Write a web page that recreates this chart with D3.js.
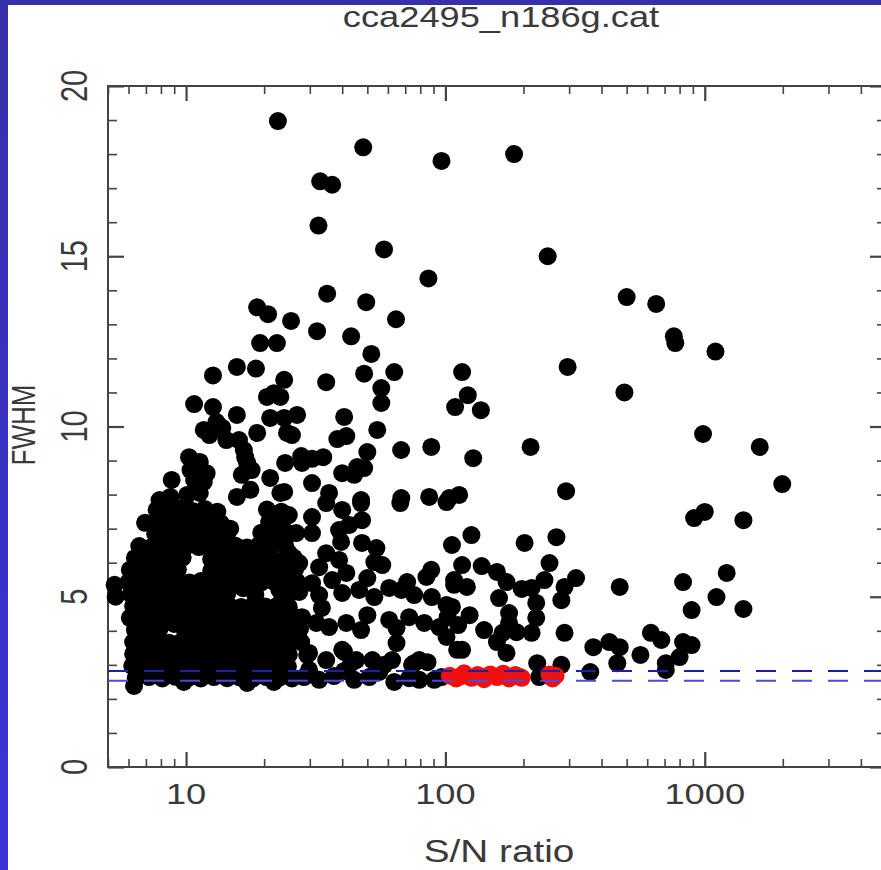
<!DOCTYPE html>
<html>
<head>
<meta charset="utf-8">
<script src="https://cdn.jsdelivr.net/npm/d3@7"></script>
<style>
  body { margin: 0; background: #fff; }
  svg { display: block; }
  text { font-family: "Liberation Sans", Arial, sans-serif; fill: #3a3a3a; }
</style>
</head>
<body>
<svg width="881" height="870"></svg>
<script>
const title = "cca2495_n186g.cat";
const xLabel = "S/N ratio";
const yLabel = "FWHM";
const xTickLabels = [10, 100, 1000];
const yTickLabels = [0, 5, 10, 15, 20];
const cutLines = [2.82, 2.53];

// [S/N, FWHM] for the black (all) stars
const blackStars = [
  [22.6,18.97],[48.2,18.2],[96.6,17.8],[184,18.0],[32.9,17.2],[36.6,17.1],[32.4,15.9],[58.0,15.2],
  [248,15.0],[86,14.35],[35,13.9],[18.8,13.5],[20.7,13.3],[49.5,13.65],[25.4,13.1],[64.5,13.15],
  [500,13.8],[650,13.6],[760,12.65],[770,12.45],[1100,12.2],[32,12.8],[43.3,12.65],[19.3,12.45],
  [22.4,12.45],[51.8,12.13],[296,11.75],[12.7,11.5],[15.7,11.75],[18.6,11.7],[23.9,11.37],[34.7,11.3],
  [48.6,11.55],[63.5,11.6],[116,11.6],[122,10.92],[137,10.48],[109,10.57],[21.8,10.98],[20.5,10.87],
  [23.1,10.87],[10.74,10.66],[12.7,10.57],[15.7,10.34],[21.1,10.25],[23.9,10.25],[40.7,10.28],[56.6,10.69],
  [56.6,11.13],[26.8,10.34],[13.1,10.13],[11.7,9.9],[13.8,9.96],[12.3,9.75],[14.3,9.6],[16.0,9.6],
  [16.7,9.31],[18.8,9.81],[24.5,9.81],[25.6,9.75],[41.5,9.72],[54.6,9.9],[38.3,9.63],[213,9.4],
  [88.2,9.4],[50,9.25],[67.5,9.31],[16.9,9.1],[17.2,8.93],[10.27,9.1],[11.3,8.96],[10.4,8.72],
  [12.0,8.63],[10.74,8.43],[11.7,8.37],[8.8,8.43],[16.4,8.58],[17.9,8.72],[21.1,8.49],[24.1,8.93],
  [8.7,7.93],[10.1,7.99],[11.3,8.05],[15.7,7.93],[17.7,8.14],[23.1,8.05],[27.8,9.13],[30.6,9.05],
  [28.0,8.93],[33.8,9.1],[40,8.63],[45.7,8.81],[48.6,8.78],[44.5,8.58],[30.6,8.34],[23.9,8.08],
  [35.6,8.05],[47.3,7.84],[67.6,7.9],[86.6,7.93],[103.5,7.9],[128,9.07],[292,8.1],[985,9.78],
  [1630,9.4],[1990,8.31],[1000,7.49],[910,7.31],[1410,7.25],[490,11.0],[113,7.99],[126,6.81],
  [202,6.58],[268,6.75],[106,6.52],
  [47.3,7.75],[67,7.75],[101,7.78],[34.7,7.75],[40,7.55],[30.6,7.34],[24.9,7.4],[47.7,7.25],
  [42.6,7.11],[38.9,6.96],[26.6,6.87],[30.6,6.87],[23.5,6.67],[39.6,6.61],[47.7,6.58],[54.2,6.43],
  [24.9,6.28],[34.7,6.28],[38.9,6.08],[32.6,5.87],[27.3,5.99],[53.2,6.02],[57.1,5.93],[88.2,5.79],
  [84.5,5.58],[41.5,5.7],[36.6,5.49],[30.6,5.4],[24.9,5.58],[50,5.55],[46.5,5.2],[60.7,5.26],
  [71.2,5.43],[75.8,5.05],[67.6,5.2],[88.6,4.99],[101,4.76],[108,5.35],[32.6,5.05],[27.3,5.14],
  [40,5.11],[53.2,4.99],[28,4.4],[33.4,4.67],[31.8,4.23],[35.6,4.11],[41.5,4.23],[47.3,4.02],
  [50,4.46],[60.7,4.32],[64.8,4.08],[72.5,4.4],[82.9,4.23],[94.7,4.11],[102,4.4],[64.8,3.64],
  [101,3.82],[29.8,3.35],[40,3.44],[34.7,3.14],[45.3,3.14],[52.3,3.14],[62.3,3.14],[79.3,3.14],
  [74.4,3.0],[29.3,3.29],[40.7,3.38],[43.3,3.05],[58.1,3.0],[75.8,3.05],[85.3,3.08],[111,3.44],
  [28.5,2.64],[32.6,2.56],[37.2,2.67],[44.5,2.56],[50.9,2.64],[63.5,2.5],[72.5,2.61],[79.3,2.56],
  [90.6,2.56],[96.6,2.64],[55.6,2.79],[29.8,2.85],[40.7,2.82],
  [116,5.93],[138,5.9],[158,5.73],[172,5.43],[252,5.99],[319,5.55],[288,5.29],[241,5.49],
  [215,5.26],[197,5.23],[108,5.49],[121,5.29],[161,4.96],[224,4.82],[280,4.9],[106,4.7],
  [124,4.46],[176,4.52],[112,4.17],[141,4.02],[176,4.23],[224,4.38],[188,3.96],[215,3.94],
  [288,3.94],[158,3.67],[166,3.94],[116,3.44],[172,3.35],[372,3.52],[429,3.67],[470,3.52],
  [460,3.05],[565,3.29],[620,3.94],[680,3.73],[708,3.05],[825,3.67],[890,3.58],[800,3.23],
  [470,5.29],[825,5.43],[1110,4.99],[890,4.61],[1215,5.7],[1410,4.64],[226,3.05],[280,3.0],
  [362,2.79],[230,2.64],[708,2.85],
  [7.7,7.55],[8.6,7.5],[9.6,7.6],[10.6,7.52],[11.8,7.58],[13.2,7.5],[20.5,7.56],[23.3,7.5],
  [6.95,7.17],[7.9,7.22],[8.75,7.15],[9.7,7.24],[10.8,7.18],[12.1,7.2],[13.6,7.16],[20.9,7.2],[23.6,7.24],
  [7.6,6.85],[8.45,6.8],[9.4,6.88],[10.5,6.82],[11.6,6.86],[13.0,6.8],[14.4,6.85],[19.5,6.88],[22.0,6.82],[24.9,6.86],
  [6.6,6.49],[7.3,6.45],[8.15,6.52],[9.1,6.47],[10.1,6.5],[11.2,6.46],[12.5,6.53],[13.9,6.48],[15.5,6.5],
  [17.2,6.45],[19.1,6.52],[21.3,6.47],[24.1,6.5],
  [6.35,6.14],[7.06,6.1],[7.9,6.17],[8.75,6.12],[9.7,6.15],[12.5,6.1],[13.9,6.16],[15.5,6.12],[17.2,6.17],
  [19.1,6.11],[21.3,6.15],[24.1,6.12],
  [6.07,5.79],[6.75,5.75],[7.5,5.82],[8.4,5.77],[9.3,5.8],[12.5,5.76],[13.9,5.82],[15.5,5.78],[17.2,5.8],
  [19.1,5.75],[21.3,5.82],[23.6,5.78],[26.3,5.8],
  [6.0,5.43],[6.7,5.4],[7.45,5.46],[8.3,5.41],[9.2,5.45],[10.3,5.42],[11.4,5.46],[12.7,5.4],[14.1,5.44],
  [15.7,5.41],[17.5,5.46],[19.5,5.42],[21.7,5.45],[24.1,5.4],[26.8,5.44],
  [6.13,5.08],[6.8,5.05],[7.6,5.1],[8.45,5.06],[9.4,5.09],[10.5,5.05],[11.6,5.1],[13.0,5.07],[14.4,5.08],
  [18.5,5.06],[24.9,5.1],
  [6.25,4.73],[6.95,4.7],[7.7,4.76],[8.6,4.71],[9.6,4.74],[10.6,4.7],[11.8,4.75],[13.2,4.72],[14.6,4.74],
  [16.3,4.7],[18.1,4.75],[20.2,4.71],[22.5,4.74],[24.9,4.7],
  [6.07,4.38],[6.75,4.35],[7.5,4.4],[8.4,4.36],[9.3,4.39],[10.4,4.35],[11.5,4.4],[12.8,4.37],[14.2,4.38],
  [15.9,4.35],[17.7,4.4],[19.7,4.36],[21.8,4.39],[24.3,4.35],[27.3,4.38],
  [6.35,4.02],[7.06,4.0],[7.9,4.05],[9.9,4.01],[11.0,4.04],[12.3,4.0],[13.6,4.05],[15.2,4.02],[16.9,4.04],
  [18.8,4.0],[20.9,4.05],[23.3,4.01],[25.9,4.03],
  [6.25,3.67],[6.95,3.64],[7.7,3.7],[8.6,3.65],[9.6,3.68],[10.6,3.64],[11.8,3.69],[13.2,3.66],[14.6,3.68],
  [16.3,3.64],[18.1,3.7],[20.2,3.65],[22.5,3.68],[24.9,3.64],[27.8,3.67],
  [6.25,3.32],[6.95,3.3],[7.7,3.35],[8.6,3.31],[9.6,3.34],[10.6,3.3],[11.8,3.35],[13.2,3.32],[14.6,3.33],
  [16.3,3.3],[18.1,3.35],[20.2,3.31],[22.5,3.34],[24.9,3.3],
  [6.2,2.97],[6.9,2.95],[7.65,3.0],[8.5,2.96],[9.5,2.99],[10.55,2.95],[11.7,3.0],[13.05,2.97],[14.5,2.98],
  [16.1,2.95],[17.9,3.0],[20.0,2.96],[22.2,2.99],[24.7,2.95],
  [6.4,2.61],[7.2,2.64],[8.1,2.6],[9.1,2.65],[10.2,2.62],[11.4,2.6],[12.8,2.64],[14.4,2.61],[16.1,2.63],
  [18.1,2.6],[20.4,2.64],[22.8,2.62],[25.6,2.6],
  [6.3,2.38],[9.8,2.5],[17.2,2.47],[21.8,2.5],[5.3,5.35],[5.35,5.0],[7.9,7.84],
  [16.6,5.25],[22.9,5.2],[20.6,4.55],[9.0,4.2],[14.8,7.0],[26.0,6.15],[27.5,4.05]
];

// [S/N, FWHM] for the selected (red) stars
const redStars = [
  [104,2.68],[110,2.6],[114,2.66],[118,2.75],[126,2.62],[133,2.7],[137,2.66],[141,2.58],[149,2.72],
  [158,2.64],[167,2.74],[172,2.67],[176,2.6],[186,2.7],[192,2.66],[197,2.62],[252,2.72],[259,2.6],
  [266,2.68]
];

const plotLeft = 108, plotRight = 886, plotTop = 86, plotBottom = 767;
const r = 9;
const stretch = 1.25;

const svg = d3.select("svg");

// blue slide border
const defs = svg.append("defs");
const grad = defs.append("linearGradient")
  .attr("id", "side").attr("x1", 0).attr("y1", 0).attr("x2", 0).attr("y2", 1);
grad.append("stop").attr("offset", "0%").attr("stop-color", "#3730a8");
grad.append("stop").attr("offset", "100%").attr("stop-color", "#3c33d8");
svg.append("rect").attr("x", 0).attr("y", 0).attr("width", 881).attr("height", 5).attr("fill", "#3730a8");
svg.append("rect").attr("x", 0).attr("y", 0).attr("width", 8).attr("height", 870).attr("fill", "url(#side)");

const x = d3.scaleLog().domain([5, 5000]).range([plotLeft, plotRight]);
const y = d3.scaleLinear().domain([0, 20]).range([plotBottom, plotTop]);

const xMinor = x.ticks().filter(v => !xTickLabels.includes(v));
const yMinor = d3.range(0, 21).filter(v => v % 5 !== 0);

function styleAxis(g, width) {
  g.select(".domain").remove();
  g.selectAll("text").remove();
  g.selectAll("line").attr("stroke", "#444").attr("stroke-width", width);
}

// ticks, all pointing inwards
svg.append("g").attr("transform", `translate(0,${plotBottom})`)
  .call(d3.axisBottom(x).tickValues(xMinor).tickSize(-8)).call(g => styleAxis(g, 1.6));
svg.append("g").attr("transform", `translate(0,${plotBottom})`)
  .call(d3.axisBottom(x).tickValues(xTickLabels).tickSize(-15)).call(g => styleAxis(g, 2.2));
svg.append("g").attr("transform", `translate(0,${plotTop})`)
  .call(d3.axisTop(x).tickValues(xMinor).tickSize(-8)).call(g => styleAxis(g, 1.6));
svg.append("g").attr("transform", `translate(0,${plotTop})`)
  .call(d3.axisTop(x).tickValues(xTickLabels).tickSize(-15)).call(g => styleAxis(g, 2.2));
svg.append("g").attr("transform", `translate(${plotLeft},0)`)
  .call(d3.axisLeft(y).tickValues(yMinor).tickSize(-9)).call(g => styleAxis(g, 1.6));
svg.append("g").attr("transform", `translate(${plotLeft},0)`)
  .call(d3.axisLeft(y).tickValues(yTickLabels).tickSize(-16)).call(g => styleAxis(g, 2.2));
svg.append("g").attr("transform", `translate(${plotRight},0)`)
  .call(d3.axisRight(y).tickValues(yMinor).tickSize(-9)).call(g => styleAxis(g, 1.6));
svg.append("g").attr("transform", `translate(${plotRight},0)`)
  .call(d3.axisRight(y).tickValues(yTickLabels).tickSize(-16)).call(g => styleAxis(g, 2.2));

// frame
svg.append("rect")
  .attr("x", plotLeft).attr("y", plotTop)
  .attr("width", plotRight - plotLeft).attr("height", plotBottom - plotTop)
  .attr("fill", "none").attr("stroke", "#444").attr("stroke-width", 2);

// tick labels
svg.selectAll(".xlab").data(xTickLabels).enter().append("text")
  .attr("class", "xlab")
  .attr("text-anchor", "middle")
  .attr("font-size", 29)
  .attr("transform", d => `translate(${x(d)},804) scale(${stretch},1)`)
  .text(d => d);

svg.selectAll(".ylab").data(yTickLabels).enter().append("text")
  .attr("class", "ylab")
  .attr("text-anchor", "middle")
  .attr("font-size", 29)
  .attr("transform", d => `translate(87,${y(d)}) scale(${stretch},1) rotate(-90)`)
  .text(d => d);

// points
svg.append("g").selectAll("circle")
  .data(blackStars).enter().append("circle")
  .attr("cx", d => x(d[0])).attr("cy", d => y(d[1]))
  .attr("r", r).attr("fill", "#000");

svg.append("g").selectAll("circle")
  .data(redStars).enter().append("circle")
  .attr("cx", d => x(d[0])).attr("cy", d => y(d[1]))
  .attr("r", r).attr("fill", "#f01010");

// dashed cut lines
svg.append("line")
  .attr("x1", plotLeft).attr("x2", plotRight)
  .attr("y1", y(cutLines[0])).attr("y2", y(cutLines[0]))
  .attr("stroke", "#1e1ea0").attr("stroke-width", 2)
  .attr("stroke-dasharray", "20,16");
svg.append("line")
  .attr("x1", plotLeft).attr("x2", plotRight)
  .attr("y1", y(cutLines[1])).attr("y2", y(cutLines[1]))
  .attr("stroke", "#4848e6").attr("stroke-width", 2)
  .attr("stroke-dasharray", "20,16");

// titles
svg.append("text")
  .attr("text-anchor", "middle").attr("font-size", 29)
  .attr("transform", `translate(501,27) scale(${stretch},1)`)
  .text(title);

svg.append("text")
  .attr("text-anchor", "middle").attr("font-size", 31)
  .attr("transform", `translate(499,862) scale(${stretch},1)`)
  .text(xLabel);

svg.append("text")
  .attr("text-anchor", "middle").attr("font-size", 26)
  .attr("transform", `translate(35,425) scale(1.3,1) rotate(-90)`)
  .text(yLabel);
</script>
</body>
</html>
